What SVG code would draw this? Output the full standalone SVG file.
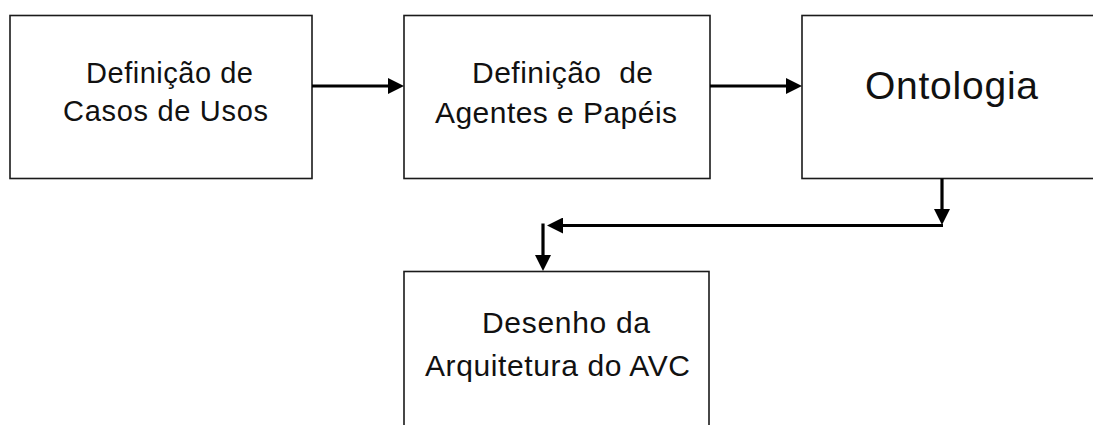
<svg xmlns="http://www.w3.org/2000/svg" width="1093" height="425" viewBox="0 0 1093 425">
  <style>
    .box { fill: #ffffff; stroke: #1a1a1a; stroke-width: 1.6; }
    .lbl { font-family: "Liberation Sans", Arial, sans-serif; fill: #111111; font-size: 29px; }
    .big { font-size: 39px; }
    .mid { font-size: 30px; }
    .conn { fill: none; stroke: #000000; stroke-width: 3.2; }
  </style>
  <defs>
    <marker id="arrow" viewBox="0 0 16 16" refX="6" refY="8" markerWidth="16" markerHeight="16" markerUnits="userSpaceOnUse" orient="auto">
      <path d="M0,0 L16,8 L0,16 z" fill="#000000"/>
    </marker>
  </defs>
  <rect width="1093" height="425" fill="#ffffff"/>

  <g id="node-casos">
    <rect class="box" x="10" y="15.5" width="302" height="163"/>
    <text class="lbl" x="86" y="83" textLength="167">Definição de</text>
    <text class="lbl" x="63" y="121" textLength="205">Casos de Usos</text>
  </g>

  <g id="node-agentes">
    <rect class="box" x="404" y="15.5" width="306" height="163"/>
    <text class="lbl mid" x="472" y="83" textLength="181" xml:space="preserve">Definição  de</text>
    <text class="lbl mid" x="435" y="123" textLength="242">Agentes e Papéis</text>
  </g>

  <g id="node-ontologia">
    <rect class="box" x="802" y="15.5" width="300" height="163"/>
    <text class="lbl big" x="865" y="99" textLength="173">Ontologia</text>
  </g>

  <g id="node-desenho">
    <rect class="box" x="404" y="271.5" width="305" height="170"/>
    <text class="lbl mid" x="482" y="333" textLength="168">Desenho da</text>
    <text class="lbl mid" x="425" y="376" textLength="265">Arquitetura do AVC</text>
  </g>

  <g id="connectors">
    <path class="conn" d="M312,86 H394" marker-end="url(#arrow)"/>
    <path class="conn" d="M710,86 H792" marker-end="url(#arrow)"/>
    <path class="conn" d="M942,178.5 V215" marker-end="url(#arrow)"/>
    <path class="conn" d="M943,225.5 H557" marker-end="url(#arrow)"/>
    <path class="conn" d="M543,223.5 V261" marker-end="url(#arrow)"/>
  </g>
</svg>
